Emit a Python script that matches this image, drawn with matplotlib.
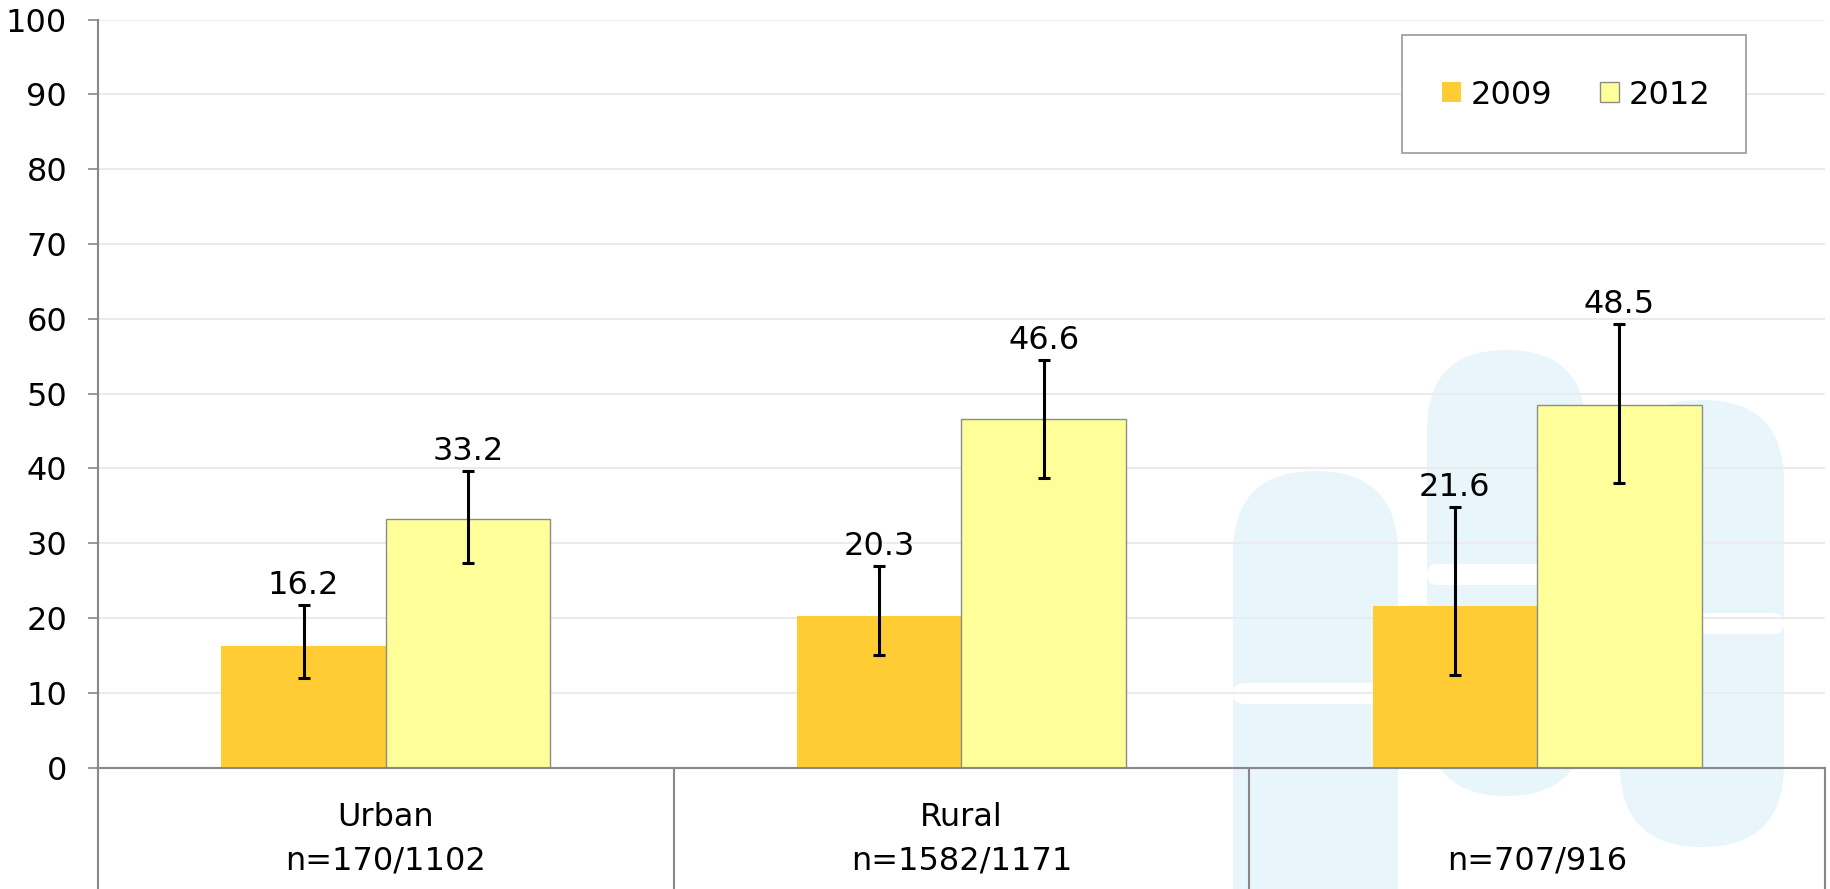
import numpy as np
import matplotlib
matplotlib.use('Agg')
from matplotlib import pyplot as plt
from matplotlib.patches import FancyBboxPatch, Rectangle, Patch

# values
categories = ['Urban', 'Rural', '']
sample_sizes = ['n=170/1102', 'n=1582/1171', 'n=707/916']
years = ['2009', '2012']
values_2009 = [16.2, 20.3, 21.6]
values_2012 = [33.2, 46.6, 48.5]
ci_low_2009 = [12.0, 15.0, 12.4]
ci_high_2009 = [21.7, 26.9, 34.8]
ci_low_2012 = [27.4, 38.7, 38.0]
ci_high_2012 = [39.6, 54.5, 59.3]
yticks = list(range(0, 101, 10))

plt.rcParams['font.family'] = ['DejaVu Sans']
fs = 23

W, H = 1831, 889
fig = plt.figure(figsize=(W / 100, H / 100), dpi=100)
left, right, top, bottom = 98, 1825, 19.5, 767.5
ax = fig.add_axes([left / W, 1 - bottom / H, (right - left) / W, (bottom - top) / H])
ax.patch.set_visible(False)


# watermark logo behind the chart (pixel coords measured from top-left)
def rounded(x0, x1, y0, y1, color, z):
    w = x1 - x0
    h = y1 - y0
    r = min(w, h) / 2
    p = FancyBboxPatch((x0 / 100, (H - y1) / 100), w / 100, h / 100,
                       boxstyle='round,pad=0,rounding_size=%f' % (r / 100),
                       transform=fig.dpi_scale_trans, fc=color, ec='none', zorder=z)
    fig.add_artist(p)


wm = '#E8F6FB'
rounded(1233, 1398, 471, 1100, wm, -3)
rounded(1427, 1586, 350, 796, wm, -3)
rounded(1620, 1784, 400, 847, wm, -3)
rounded(1233, 1398, 683, 704, 'white', -2)
rounded(1427, 1586, 564, 585, 'white', -2)
rounded(1620, 1784, 613, 634, 'white', -2)

x = np.arange(len(categories))
bw = 0.286
c2009 = '#FFCC33'
c2012 = '#FFFF99'

ax.bar(x - bw / 2, values_2009, bw, color=c2009, edgecolor='none', zorder=2)
ax.bar(x + bw / 2, values_2012, bw, color=c2012, edgecolor='#8C8C8C', linewidth=1, zorder=2)

err09 = [np.array(values_2009) - np.array(ci_low_2009), np.array(ci_high_2009) - np.array(values_2009)]
err12 = [np.array(values_2012) - np.array(ci_low_2012), np.array(ci_high_2012) - np.array(values_2012)]
ax.errorbar(x - bw / 2, values_2009, yerr=err09, fmt='none', ecolor='black',
            elinewidth=2.2, capsize=4.5, capthick=2.2, zorder=3)
ax.errorbar(x + bw / 2, values_2012, yerr=err12, fmt='none', ecolor='black',
            elinewidth=2.2, capsize=4.5, capthick=2.2, zorder=3)

# value labels above the error bars
for i in range(len(categories)):
    ax.annotate('%.1f' % values_2009[i], (x[i] - bw / 2, ci_high_2009[i]), xytext=(0, 3),
                textcoords='offset points', ha='center', va='bottom', fontsize=fs)
    ax.annotate('%.1f' % values_2012[i], (x[i] + bw / 2, ci_high_2012[i]), xytext=(0, 3),
                textcoords='offset points', ha='center', va='bottom', fontsize=fs)

ax.set_xlim(-0.5, len(categories) - 0.5)
ax.set_ylim(0, 100)
ax.set_yticks(yticks)
ax.set_xticks([])
ax.yaxis.grid(True, color='#EBEBEB', linewidth=1.5, zorder=0)
ax.set_axisbelow(True)
ax.tick_params(axis='y', length=7.2, width=1.2, color='#888888', labelsize=fs, pad=15)
for s in ['top', 'right']:
    ax.spines[s].set_visible(False)
for s in ['left', 'bottom']:
    ax.spines[s].set_color('#888888')
    ax.spines[s].set_linewidth(1.5)

# category box below the axis
trans = ax.get_xaxis_transform()
for xb in np.arange(len(categories) + 1) - 0.5:
    ax.plot([xb, xb], [0, -0.2], transform=trans, color='#888888', lw=1.5, clip_on=False)
for i in range(len(categories)):
    if categories[i]:
        ax.text(x[i], -0.0662, categories[i], transform=trans, ha='center', va='center', fontsize=fs)
    ax.text(x[i], -0.125, sample_sizes[i], transform=trans, ha='center', va='center', fontsize=fs)

# legend in a framed box
frame = Rectangle((1402 / 100, (H - 153) / 100), (1746 - 1402) / 100, (153 - 35) / 100,
                  transform=fig.dpi_scale_trans, fc='white', ec='#999999', lw=1.2, zorder=5)
fig.add_artist(frame)
handles = [Patch(facecolor=c2009, edgecolor='none'), Patch(facecolor=c2012, edgecolor='#8C8C8C')]
leg = fig.legend(handles, years, loc='center', bbox_to_anchor=(1576 / W, 1 - 95 / H), ncol=2,
                 frameon=False, fontsize=fs, handlelength=0.6, handleheight=0.6,
                 handletextpad=0.3, columnspacing=1.5)
leg.set_zorder(6)

fig.savefig('out.png', dpi=100)
